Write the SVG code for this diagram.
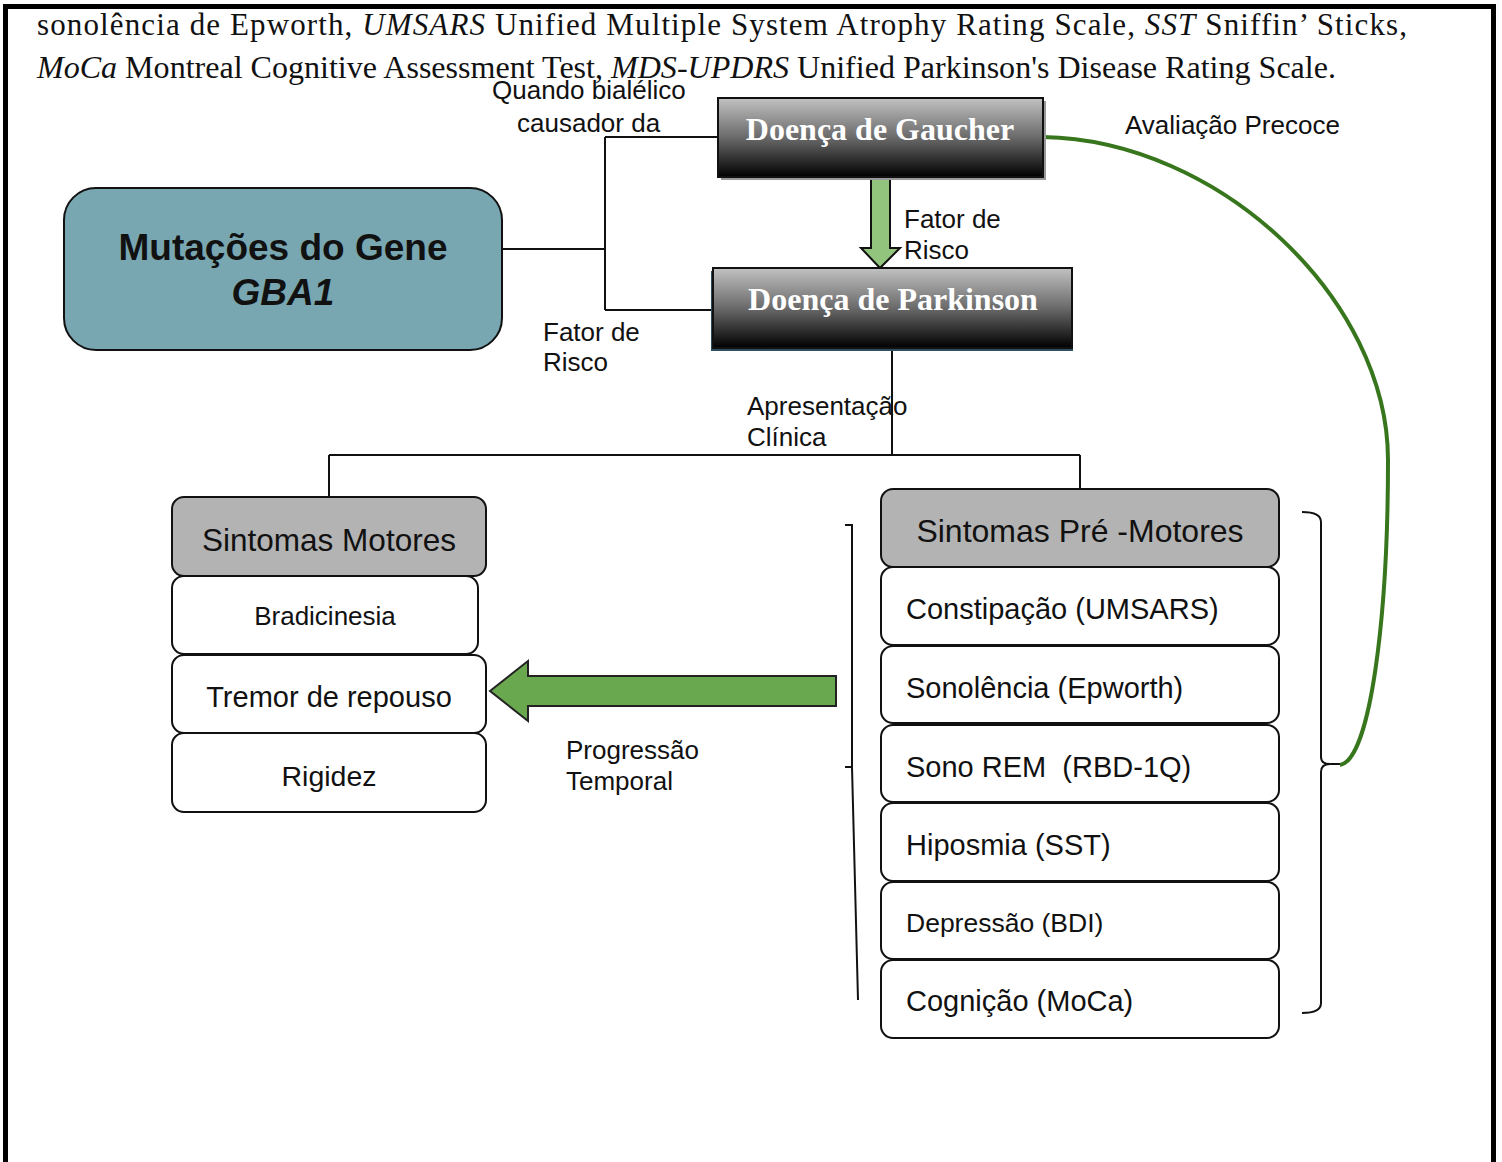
<svg xmlns="http://www.w3.org/2000/svg" width="1502" height="1162" viewBox="0 0 1502 1162">
<style>
.sans{font-family:"Liberation Sans",Arial,sans-serif;fill:#111}
.serif{font-family:"Liberation Serif","Times New Roman",serif;fill:#111}
.dark{font-family:"Liberation Serif","Times New Roman",serif;font-weight:bold;font-size:32px;fill:#fff}
.item{fill:#fff;stroke:#111;stroke-width:2}
.hdr{fill:#b3b3b3;stroke:#111;stroke-width:2}
.conn{fill:none;stroke:#111;stroke-width:2}
</style>
<defs>
<linearGradient id="g" x1="0" y1="0" x2="0" y2="1">
<stop offset="0" stop-color="#c2c2c2"/>
<stop offset="0.5" stop-color="#6a6a6a"/>
<stop offset="1" stop-color="#000"/>
</linearGradient>
</defs>
<rect width="1502" height="1162" fill="#fff"/>
<rect x="5.5" y="6.5" width="1488" height="1200" fill="none" stroke="#000" stroke-width="5"/>

<g id="caption">
<text class="serif" font-size="31" x="37" y="35" textLength="1370" lengthAdjust="spacing">sonolência de Epworth, <tspan font-style="italic">UMSARS</tspan> Unified Multiple System Atrophy Rating Scale, <tspan font-style="italic">SST</tspan> Sniffin’ Sticks,</text>
<text class="serif" font-size="31" x="37" y="78" textLength="1299" lengthAdjust="spacingAndGlyphs"><tspan font-style="italic">MoCa</tspan> Montreal Cognitive Assessment Test, <tspan font-style="italic">MDS-UPDRS</tspan> Unified Parkinson's Disease Rating Scale.</text>
</g>

<g id="connectors">
<path class="conn" d="M502,249 H605 M605,137 V310 M605,137 H718 M605,310 H713"/>
<path class="conn" d="M892,348 V455 M329,455 H1080 M329,455 V497 M1080,455 V489"/>
<path class="conn" d="M845,525 H852 V767 M845,767 H852 L858,1000"/>
<path class="conn" d="M1302,512 Q1321,512 1321,522 V757 Q1321,764 1330,764 H1342 M1330,764 Q1321,764 1321,772 V1003 Q1321,1013 1302,1013"/>
<path fill="none" stroke="#38761d" stroke-width="4" d="M1043,137 C1220,140 1388,300 1388,460 C1388,620 1370,760 1340,765"/>
<polygon points="871,178 890,178 890,248 900,248 880,268 861,248 871,248" fill="#93c47d" stroke="#111" stroke-width="2"/>
<polygon points="490,691 528,661 528,676 836,676 836,706 528,706 528,721" fill="#6aa84f" stroke="#222" stroke-width="2"/>
</g>

<g id="labels">
<text class="sans" font-size="26" x="492" y="99">Quando bialélico</text>
<text class="sans" font-size="26" x="517" y="132">causador da</text>
<text class="sans" font-size="26" x="1125" y="134">Avaliação Precoce</text>
<text class="sans" font-size="26" x="904" y="228">Fator de</text>
<text class="sans" font-size="26" x="904" y="259">Risco</text>
<text class="sans" font-size="26" x="543" y="341">Fator de</text>
<text class="sans" font-size="26" x="543" y="371">Risco</text>
<text class="sans" font-size="26" x="747" y="415">Apresentação</text>
<text class="sans" font-size="26" x="747" y="446">Clínica</text>
<text class="sans" font-size="26" x="566" y="759">Progressão</text>
<text class="sans" font-size="26" x="566" y="790">Temporal</text>
</g>

<g id="gene">
<rect x="64" y="188" width="438" height="162" rx="32" fill="#78a7b2" stroke="#111" stroke-width="2"/>
<text class="sans" font-size="37" font-weight="bold" x="283" y="260" text-anchor="middle">Mutações do Gene</text>
<text class="sans" font-size="37" font-weight="bold" font-style="italic" x="283" y="305" text-anchor="middle">GBA1</text>
</g>

<g id="gaucher">
<rect x="721" y="101" width="325" height="79" fill="#999"/>
<rect x="718" y="98" width="325" height="79" fill="url(#g)" stroke="#111" stroke-width="2"/>
<text class="dark" x="880" y="140" text-anchor="middle">Doença de Gaucher</text>
</g>

<g id="parkinson">
<rect x="711" y="271" width="362" height="80" fill="#2f4f5f"/>
<rect x="713" y="268" width="359" height="80" fill="url(#g)" stroke="#111" stroke-width="2"/>
<text class="dark" x="893" y="310" text-anchor="middle">Doença de Parkinson</text>
</g>

<g id="motores">
<rect class="hdr" x="172" y="497" width="314" height="79" rx="12"/>
<text class="sans" font-size="31.5" x="329" y="551" text-anchor="middle">Sintomas Motores</text>
</g>
<g id="bradicinesia">
<rect class="item" x="172" y="576" width="306" height="78" rx="12"/>
<text class="sans" font-size="26" x="325" y="625" text-anchor="middle">Bradicinesia</text>
</g>
<g id="tremor">
<rect class="item" x="172" y="655" width="314" height="78" rx="12"/>
<text class="sans" font-size="29" x="329" y="707" text-anchor="middle">Tremor de repouso</text>
</g>
<g id="rigidez">
<rect class="item" x="172" y="733" width="314" height="79" rx="12"/>
<text class="sans" font-size="28.5" x="329" y="786" text-anchor="middle">Rigidez</text>
</g>

<g id="premotores">
<rect class="hdr" x="881" y="489" width="398" height="78" rx="12"/>
<text class="sans" font-size="32" x="1080" y="542" text-anchor="middle">Sintomas Pré -Motores</text>
</g>
<g id="constipacao">
<rect class="item" x="881" y="567" width="398" height="78" rx="12"/>
<text class="sans" font-size="29" x="906" y="619">Constipação (UMSARS)</text>
</g>
<g id="sonolencia">
<rect class="item" x="881" y="646" width="398" height="77" rx="12"/>
<text class="sans" font-size="29" x="906" y="698">Sonolência (Epworth)</text>
</g>
<g id="sonorem">
<rect class="item" x="881" y="725" width="398" height="77" rx="12"/>
<text class="sans" font-size="29" x="906" y="777" xml:space="preserve">Sono REM  (RBD-1Q)</text>
</g>
<g id="hiposmia">
<rect class="item" x="881" y="803" width="398" height="78" rx="12"/>
<text class="sans" font-size="29" x="906" y="855">Hiposmia (SST)</text>
</g>
<g id="depressao">
<rect class="item" x="881" y="882" width="398" height="77" rx="12"/>
<text class="sans" font-size="26.5" x="906" y="932">Depressão (BDI)</text>
</g>
<g id="cognicao">
<rect class="item" x="881" y="960" width="398" height="78" rx="12"/>
<text class="sans" font-size="29" x="906" y="1011">Cognição (MoCa)</text>
</g>
</svg>
